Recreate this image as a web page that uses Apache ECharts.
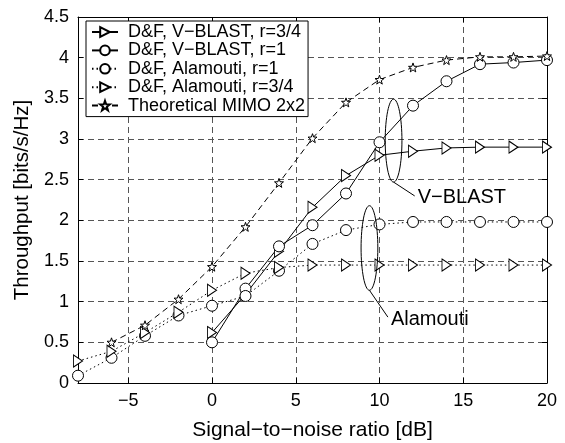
<!DOCTYPE html>
<html>
<head>
<meta charset="utf-8">
<script src="https://cdn.jsdelivr.net/npm/echarts@6/dist/echarts.min.js"></script>
<style>
html, body { margin: 0; padding: 0; background: #fff; }
#chart { width: 565px; height: 443px; }
</style>
</head>
<body>
<div id="chart"></div>
<script>
// SNR in dB, one point every 2 dB
const snr = [-8, -6, -4, -2, 0, 2, 4, 6, 8, 10, 12, 14, 16, 18, 20];
const xTicks = [-5, 0, 5, 10, 15, 20];

// throughput [bits/s/Hz]
const vblast34 = [null, null, null, null, 0.62, 1.09, 1.62, 2.16, 2.55, 2.80, 2.85, 2.89, 2.90, 2.90, 2.90];
const vblast1 = [null, null, null, null, 0.50, 1.16, 1.68, 1.94, 2.33, 2.96, 3.41, 3.71, 3.92, 3.94, 3.97];
const alam1 = [0.09, 0.31, 0.58, 0.83, 0.95, 1.07, 1.38, 1.71, 1.88, 1.95, 1.98, 1.98, 1.98, 1.98, 1.98];
const alam34 = [0.27, 0.39, 0.62, 0.87, 1.14, 1.35, 1.42, 1.45, 1.45, 1.45, 1.45, 1.45, 1.45, 1.45, 1.45];
const theory = [null, 0.50, 0.71, 1.03, 1.43, 1.92, 2.46, 3.01, 3.45, 3.73, 3.88, 3.97, 4.01, 4.01, 4.02];

const names = [
  'D&F, V\u2212BLAST, r=3/4',
  'D&F, V\u2212BLAST, r=1',
  'D&F, Alamouti, r=1',
  'D&F, Alamouti, r=3/4',
  'Theoretical MIMO 2x2'
];

const FONT = 'Liberation Sans';
const tri = 'path://M0,0 L10,6 L0,12 Z';
const star = 'path://M0,-10 L2.35,-3.24 9.51,-3.09 3.8,1.24 5.88,8.09 0,4 -5.88,8.09 -3.8,1.24 -9.51,-3.09 -2.35,-3.24Z';

function pairs(ys) {
  return snr.map((x, i) => [x, ys[i]]).filter(p => p[1] != null);
}

function mkSeries(name, ys, symbol, size, dash) {
  return {
    name: name,
    type: 'line',
    data: pairs(ys),
    symbol: symbol,
    symbolSize: size,
    showAllSymbol: true,
    lineStyle: { color: '#000', width: 1, type: dash },
    itemStyle: { color: '#fff', borderColor: '#000', borderWidth: 1 },
    emphasis: { disabled: true },
    animation: false,
    z: 3
  };
}

const chart = echarts.init(document.getElementById('chart'));

const gridDash = { color: '#555', type: [6, 4], width: 1 };
const frame = { show: true, onZero: false, lineStyle: { color: '#000', width: 1 } };

const option = {
  backgroundColor: '#fff',
  animation: false,
  textStyle: { fontFamily: FONT },
  grid: { left: 78, right: 18, top: 17, bottom: 60, outerBoundsMode: 'none', containLabel: false },
  legend: {
    orient: 'vertical',
    left: 86,
    top: 21,
    itemWidth: 26,
    itemHeight: 12,
    itemGap: 0.4,
    padding: [2, 3, 2, 5],
    backgroundColor: '#fff',
    borderColor: '#000',
    borderWidth: 1,
    borderRadius: 0,
    textStyle: { fontFamily: FONT, fontSize: 18, color: '#000', lineHeight: 17, padding: [0, 0, 0, 5] },
    data: names,
    z: 10
  },
  xAxis: [{
    type: 'value',
    min: -8,
    max: 20,
    name: 'Signal\u2212to\u2212noise ratio [dB]',
    nameLocation: 'middle',
    nameGap: 37,
    nameTextStyle: { fontFamily: FONT, fontSize: 21, color: '#000' },
    axisLine: frame,
    axisTick: { show: true, inside: true, length: 5, customValues: xTicks, lineStyle: { color: '#000' } },
    axisLabel: {
      customValues: xTicks,
      fontFamily: FONT, fontSize: 18, color: '#000', margin: 9,
      formatter: v => String(v).replace('-', '\u2212')
    },
    splitLine: { show: true, lineStyle: gridDash }
  }, {
    type: 'value',
    position: 'top',
    min: -8,
    max: 20,
    axisLine: frame,
    axisTick: { show: true, inside: true, length: 5, customValues: xTicks, lineStyle: { color: '#000' } },
    axisLabel: { show: false },
    splitLine: { show: false }
  }],
  yAxis: [{
    type: 'value',
    min: 0,
    max: 4.5,
    interval: 0.5,
    name: 'Throughput [bits/s/Hz]',
    nameLocation: 'middle',
    nameGap: 45,
    nameTextStyle: { fontFamily: FONT, fontSize: 20.5, color: '#000' },
    axisLine: frame,
    axisTick: { show: true, inside: true, length: 5, lineStyle: { color: '#000' } },
    axisLabel: { fontFamily: FONT, fontSize: 18, color: '#000', margin: 9 },
    splitLine: { show: true, lineStyle: gridDash }
  }, {
    type: 'value',
    position: 'right',
    min: 0,
    max: 4.5,
    interval: 0.5,
    axisLine: frame,
    axisTick: { show: true, inside: true, length: 5, lineStyle: { color: '#000' } },
    axisLabel: { show: false },
    splitLine: { show: false }
  }],
  series: [
    mkSeries(names[0], vblast34, tri, [9, 12], 'solid'),
    mkSeries(names[1], vblast1, 'circle', 11, 'solid'),
    mkSeries(names[2], alam1, 'circle', 11, [1.5, 3]),
    mkSeries(names[3], alam34, tri, [9, 12], [1.5, 3]),
    mkSeries(names[4], theory, star, 9, [6, 4])
  ]
};

chart.setOption(option);

// annotation ellipses grouping the curves, placed in data coordinates
function px(x, y) { return chart.convertToPixel({ gridIndex: 0 }, [x, y]); }
function annot(cx, cy, rxData, ryData, tailTo, label) {
  const c = px(cx, cy);
  const e = px(cx + rxData, cy - ryData);
  const rx = Math.abs(e[0] - c[0]);
  const ry = Math.abs(e[1] - c[1]);
  const t = px(tailTo[0], tailTo[1]);
  return [
    { type: 'ellipse', shape: { cx: c[0], cy: c[1], rx: rx, ry: ry }, style: { fill: null, stroke: '#000', lineWidth: 1 }, z: 5 },
    { type: 'line', shape: { x1: c[0], y1: c[1] + ry, x2: t[0], y2: t[1] }, style: { stroke: '#000', lineWidth: 1 }, z: 5 },
    { type: 'text', x: t[0] + 3, y: t[1] + 2, style: { text: label, fontFamily: FONT, fontSize: 20, fill: '#000', verticalAlign: 'middle' }, z: 5 }
  ];
}

chart.setOption({
  graphic: [].concat(
    annot(10.84, 2.98, 0.5, 0.51, [12.1, 2.30], 'V\u2212BLAST'),
    annot(9.4, 1.66, 0.5, 0.52, [10.5, 0.81], 'Alamouti')
  )
});
</script>
</body>
</html>
